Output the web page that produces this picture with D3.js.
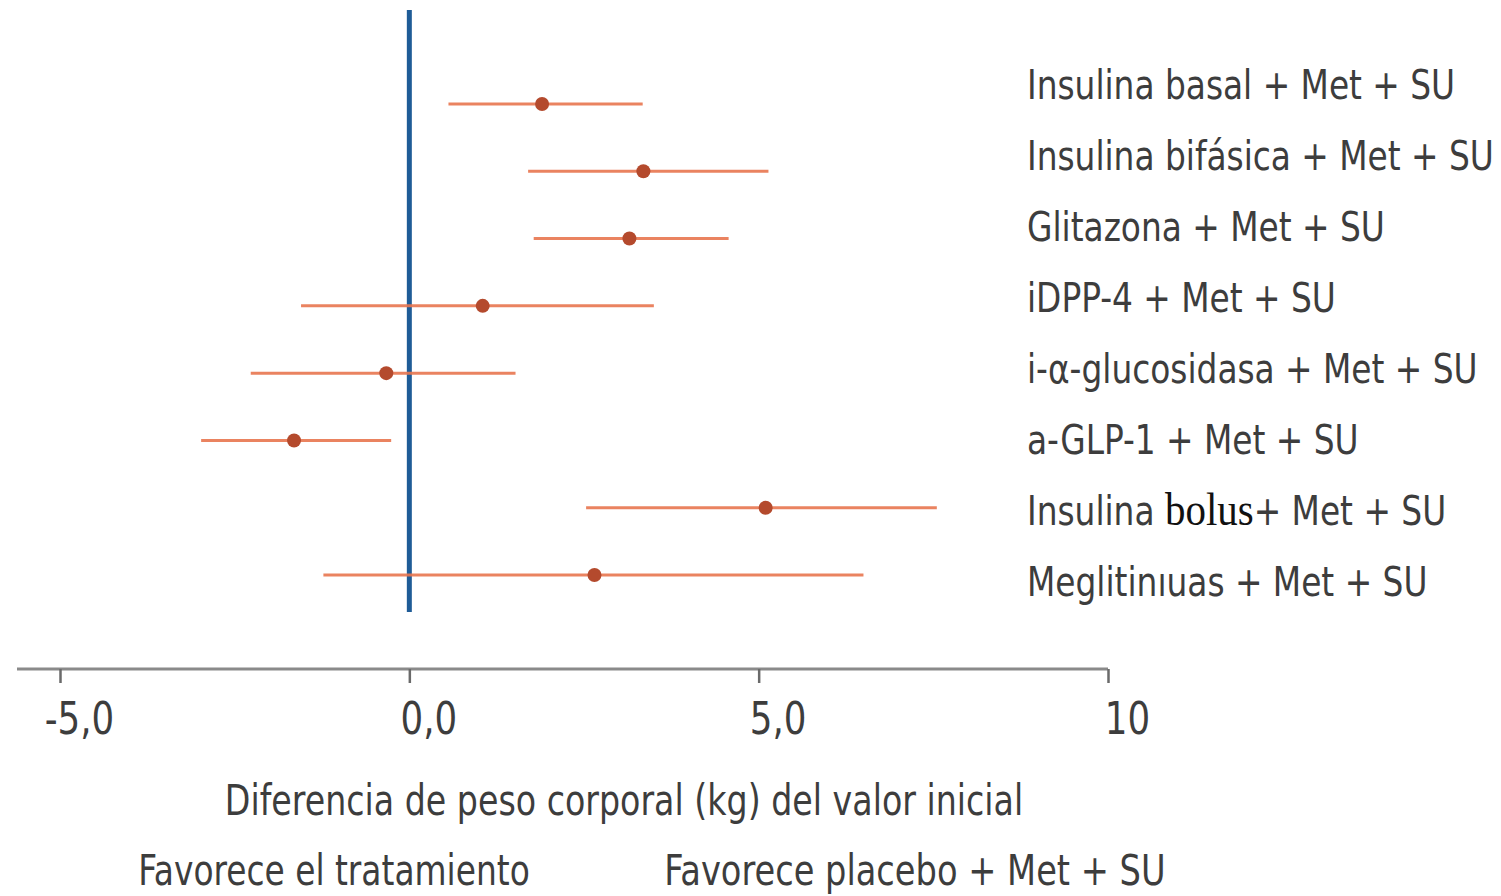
<!DOCTYPE html>
<html>
<head>
<meta charset="utf-8">
<script src="https://cdn.jsdelivr.net/npm/d3@7"></script>
<style>
  html, body { margin: 0; padding: 0; background: #ffffff; }
  svg { display: block; }
</style>
</head>
<body>
<svg id="chart" width="1501" height="896"></svg>
<script>
// Treatment groups (top to bottom)
const categories = [
  "Insulina basal + Met + SU",
  "Insulina bifásica + Met + SU",
  "Glitazona + Met + SU",
  "iDPP-4 + Met + SU",
  "i-α-glucosidasa + Met + SU",
  "a-GLP-1 + Met + SU",
  "Insulina bolus+ Met + SU",
  "Meglitinıuas + Met + SU"
];
// Mean difference in body weight (kg) and 95% CI bounds
const estimates = [1.9, 3.35, 3.15, 1.05, -0.33, -1.65, 5.1, 2.65];
const lowerCI   = [0.56, 1.7, 1.78, -1.55, -2.27, -2.98, 2.53, -1.23];
const upperCI   = [3.34, 5.14, 4.57, 3.5, 1.52, -0.26, 7.55, 6.5];
const tickValues = [-5, 0, 5, 10];
const tickLabels = ["-5,0", "0,0", "5,0", "10"];

const font = "'Liberation Sans Narrow', 'DejaVu Sans Condensed', 'Open Sans', sans-serif";
const textColor = "#3d3d3d";

const svg = d3.select("#chart");

const x = d3.scaleLinear().domain([-5, 10]).range([60, 1108]);
const yMark = d3.scalePoint().domain(categories).range([104, 575]);
const yLabel = d3.scalePoint().domain(categories).range([85, 582]);

// x axis
const axisY = 669;
const axis = d3.axisBottom(x)
  .tickValues(tickValues)
  .tickFormat((d, i) => tickLabels[i])
  .tickSize(14)
  .tickSizeOuter(0);

const gAxis = svg.append("g")
  .attr("transform", `translate(0,${axisY})`)
  .call(axis);
gAxis.select(".domain").remove();
gAxis.insert("line", ":first-child")
  .attr("x1", 17).attr("x2", x(10))
  .attr("stroke", "#8a8a8a").attr("stroke-width", 3);
gAxis.selectAll(".tick line")
  .attr("stroke", "#6a6a6a").attr("stroke-width", 2.5);
gAxis.selectAll(".tick text")
  .attr("fill", textColor)
  .attr("font-family", font)
  .attr("font-size", 44)
  .attr("y", 0)
  .attr("dy", "0.35em")
  .attr("transform", "translate(19,50) scale(0.9,1)");

// reference line at zero
svg.append("line")
  .attr("x1", x(0)).attr("x2", x(0))
  .attr("y1", 10).attr("y2", 612)
  .attr("stroke", "#1f5c97").attr("stroke-width", 5);

// confidence interval whiskers
svg.append("g").selectAll("line")
  .data(categories)
  .join("line")
  .attr("x1", (d, i) => x(lowerCI[i]))
  .attr("x2", (d, i) => x(upperCI[i]))
  .attr("y1", d => yMark(d))
  .attr("y2", d => yMark(d))
  .attr("stroke", "#e8764f")
  .attr("stroke-width", 3)
  .attr("stroke-opacity", 0.9);

// point estimates
svg.append("g").selectAll("circle")
  .data(categories)
  .join("circle")
  .attr("cx", (d, i) => x(estimates[i]))
  .attr("cy", d => yMark(d))
  .attr("r", 7)
  .attr("fill", "#b44a2d");

// group labels (horizontally condensed)
const labels = svg.append("g").selectAll("text")
  .data(categories)
  .join("text")
  .attr("transform", d => `translate(1027,${yLabel(d)}) scale(0.89,1)`)
  .attr("dy", "0.35em")
  .attr("fill", textColor)
  .attr("font-family", font)
  .attr("font-size", 41);

labels.each(function(d) {
  const t = d3.select(this);
  if (d.includes("bolus")) {
    const [pre, post] = d.split("bolus");
    t.append("tspan").text(pre);
    t.append("tspan")
      .attr("font-family", "'Liberation Serif', 'DejaVu Serif', serif")
      .attr("fill", "#111")
      .attr("font-size", 46)
      .text("bolus");
    t.append("tspan").text(post);
  } else {
    t.text(d);
  }
});

// axis title and direction captions
function caption(cx, cy, s, txt) {
  svg.append("text")
    .attr("transform", `translate(${cx},${cy}) scale(${s},1)`)
    .attr("dy", "0.35em")
    .attr("text-anchor", "middle")
    .attr("fill", textColor)
    .attr("font-family", font)
    .attr("font-size", 43)
    .text(txt);
}
caption(624, 800, 0.86, "Diferencia de peso corporal (kg) del valor inicial");
caption(334, 870, 0.85, "Favorece el tratamiento");
caption(915, 870, 0.87, "Favorece placebo + Met + SU");
</script>
</body>
</html>
